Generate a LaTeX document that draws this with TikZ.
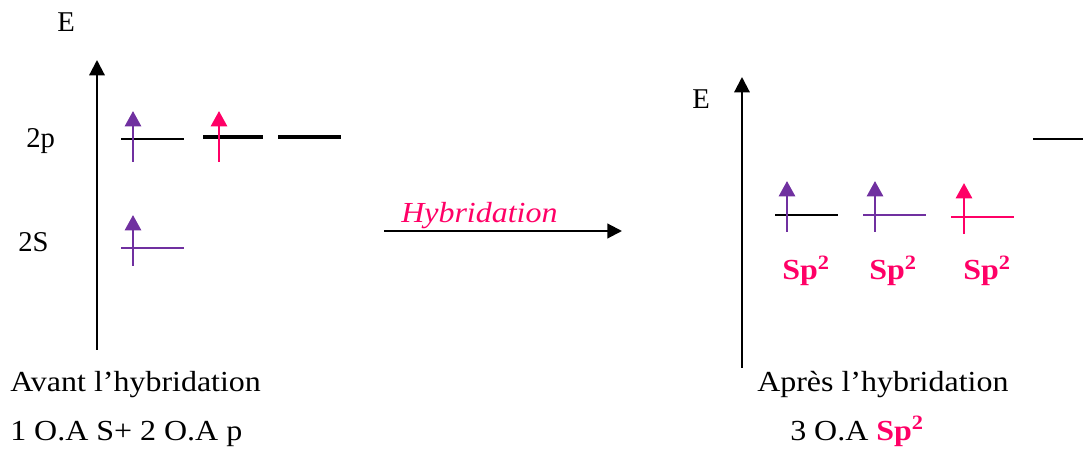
\documentclass[tikz,border=0pt]{standalone}
\usepackage{fontspec}
\setmainfont{Liberation Serif}
\newfontfamily\widefont[FakeStretch=1.1]{Liberation Serif}
\usetikzlibrary{arrows.meta}
\definecolor{vio}{HTML}{7030A0}
\definecolor{rose}{HTML}{FF0066}
\begin{document}
\begin{tikzpicture}[x=0.75pt,y=-0.75pt,
  lbl/.style={font=\fontsize{21.5}{25}\selectfont, inner sep=0, anchor=base west},
  txt/.style={font=\widefont\fontsize{21.8}{25}\selectfont, inner sep=0, anchor=base west},
  spl/.style={font=\widefont\bfseries\fontsize{21.8}{25}\selectfont, text=rose, inner sep=0, anchor=base west},
  axis/.style={line width=1.6pt, -{Triangle[length=11.5pt,width=11.5pt]}},
  elec/.style={line width=2.1pt, -{Triangle[length=11.5pt,width=12pt]}},
  thin/.style={line width=1.6pt},
  thick/.style={line width=2.3pt}]
\useasboundingbox (0,0) rectangle (1083,449);

% left axis
\coordinate (la0) at (97,350);
\coordinate (la1) at (97,60);
\draw[axis] (la0) -- (la1);
\node[lbl] (e1) at (57,32) {E};
\node[lbl] (l2p) at (26,148) {2p};
\node[lbl] (l2s) at (18,252) {2S};

% 2p levels
\draw[thin] (121,139) coordinate (p1a) -- (184,139) coordinate (p1b);
\draw[thick] (203,137) coordinate (p2a) -- (263,137) coordinate (p2b);
\draw[thick] (278,137) coordinate (p3a) -- (341,137) coordinate (p3b);
\draw[elec,vio] (133,162) coordinate (ea0) -- (133,111) coordinate (ea1);
\draw[elec,rose] (219,162) coordinate (eb0) -- (219,111) coordinate (eb1);

% 2S level
\draw[thin,vio] (121,248) coordinate (s1a) -- (184,248) coordinate (s1b);
\draw[elec,vio] (133,266) coordinate (ec0) -- (133,215) coordinate (ec1);

% hybridation arrow
\coordinate (h0) at (384,231);
\coordinate (h1) at (622,231);
\draw[line width=1.6pt, -{Triangle[length=11pt,width=11pt]}] (h0) -- (h1);
\node[txt, font=\widefont\itshape\fontsize{21.8}{25}\selectfont, text=rose] (hyb) at (401,223) {Hybridation};

% right axis
\coordinate (ra0) at (742,368);
\coordinate (ra1) at (742,77);
\draw[axis] (ra0) -- (ra1);
\node[lbl] (e2) at (692,109) {E};
\draw[thin] (1033,139) coordinate (r0) -- (1083,139) coordinate (r1);

% sp2 levels
\draw[thin] (775,215) coordinate (q1a) -- (838,215) coordinate (q1b);
\draw[thin,vio] (863,215) coordinate (q2a) -- (926,215) coordinate (q2b);
\draw[thin,rose] (951,217) coordinate (q3a) -- (1014,217) coordinate (q3b);
\draw[elec,vio] (787,232) coordinate (f10) -- (787,181) coordinate (f11);
\draw[elec,vio] (875,232) coordinate (f20) -- (875,181) coordinate (f21);
\draw[elec,rose] (964,234) coordinate (f30) -- (964,183) coordinate (f31);
\node[spl] (sp1) at (782,280) {Sp\textsuperscript{2}};
\node[spl] (sp2) at (869,280) {Sp\textsuperscript{2}};
\node[spl] (sp3) at (963,280) {Sp\textsuperscript{2}};

% bottom texts
\node[txt] (avant) at (10,392) {Avant l’hybridation};
\node[txt] (oa1) at (10,440) {1 O.A S+ 2 O.A p};
\node[txt] (apres) at (757,392) {Après l’hybridation};
\node[txt] (oa2) at (790,440) {3 O.A \textcolor{rose}{\bfseries Sp\textsuperscript{2}}};
\end{tikzpicture}
\end{document}
